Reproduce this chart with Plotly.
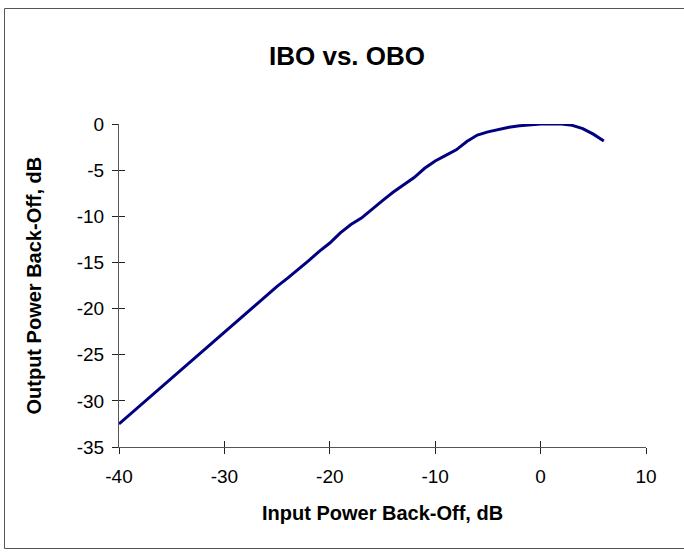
import plotly.graph_objects as go

# Data
ibo_db = [-40, -39, -38, -37, -36, -35, -34, -33, -32, -31,
          -30, -29, -28, -27, -26, -25, -24, -23, -22, -21,
          -20, -19, -18, -17, -16, -15, -14, -13, -12, -11,
          -10, -9, -8, -7, -6, -5, -4, -3, -2, -1,
          0, 1, 2, 3, 4, 5, 6]
obo_db = [-32.5, -31.5, -30.5, -29.5, -28.5, -27.5, -26.5, -25.5, -24.5, -23.5,
          -22.6, -21.5, -20.5, -19.5, -18.5, -17.6, -16.7, -15.8, -14.8, -13.8,
          -12.9, -11.8, -10.9, -10.2, -9.2, -8.3, -7.4, -6.6, -5.8, -4.8,
          -4.0, -3.4, -2.8, -1.9, -1.2, -0.85, -0.6, -0.35, -0.2, -0.1,
          0.0, 0.0, 0.0, -0.15, -0.5, -1.1, -1.85]

x_ticks = [-40, -30, -20, -10, 0, 10]
x_tick_labels = ["-40", "-30", "-20", "-10", "0", "10"]
y_ticks = [0, -5, -10, -15, -20, -25, -30, -35]
y_tick_labels = ["0", "-5", "-10", "-15", "-20", "-25", "-30", "-35"]
chart_title = "IBO vs. OBO"
x_title = "Input Power Back-Off, dB"
y_title = "Output Power Back-Off, dB"

FONT = "Liberation Sans, Arial, Helvetica, sans-serif"
W, H = 684, 557
L, R, T, B = 119, 38, 124, 110
plot_w = W - L - R
plot_h = H - T - B

fig = go.Figure()
fig.add_trace(go.Scatter(x=ibo_db, y=obo_db, mode="lines",
                         line=dict(color="#000080", width=3),
                         showlegend=False, hoverinfo="x+y"))
# helper trace so the overlaid axes (inner half of the cross ticks) are drawn
fig.add_trace(go.Scatter(x=ibo_db, y=obo_db, mode="lines", xaxis="x2", yaxis="y2",
                         line=dict(width=0), opacity=0, showlegend=False,
                         hoverinfo="skip"))

axis_common = dict(showgrid=False, zeroline=False, ticklen=6, tickwidth=1,
                   tickcolor="#222222")

fig.update_layout(
    width=W, height=H,
    margin=dict(l=L, r=R, t=T, b=B, pad=0),
    paper_bgcolor="white", plot_bgcolor="white",
    font=dict(family=FONT, color="black"),
    title=dict(text="<b>" + chart_title + "</b>", xref="container", yref="container",
               x=347 / W, y=1 - 56 / H, xanchor="center", yanchor="middle",
               font=dict(size=26, family=FONT, color="black")),
    xaxis=dict(range=[-40, 10], tickvals=x_ticks, ticktext=x_tick_labels,
               ticks="outside", showline=True, linecolor="#555555", linewidth=1,
               tickfont=dict(size=19), ticklabelstandoff=6, **axis_common),
    yaxis=dict(range=[-35, 0], tickvals=y_ticks, ticktext=y_tick_labels,
               ticks="outside", showline=True, linecolor="#555555", linewidth=1,
               tickfont=dict(size=19), ticklabelstandoff=4, **axis_common),
    xaxis2=dict(range=[-40, 10], tickvals=x_ticks, ticks="inside",
                overlaying="x", anchor="y", side="bottom",
                showticklabels=False, showline=False, **axis_common),
    yaxis2=dict(range=[-35, 0], tickvals=y_ticks, ticks="inside",
                overlaying="y", anchor="x", side="left",
                showticklabels=False, showline=False, **axis_common),
    annotations=[
        dict(text="<b>" + x_title + "</b>", xref="paper", yref="paper",
             x=0.5, y=0, xanchor="center", yanchor="middle", yshift=-66,
             showarrow=False, font=dict(size=20, family=FONT, color="black")),
        dict(text="<b>" + y_title + "</b>", xref="paper", yref="paper",
             x=0, y=0.5, xanchor="center", yanchor="middle", xshift=-86,
             textangle=-90, showarrow=False,
             font=dict(size=20, family=FONT, color="black")),
    ],
    shapes=[
        dict(type="rect", xref="paper", yref="paper",
             x0=(4.5 - L) / plot_w, x1=(700 - L) / plot_w,
             y0=(H - B - 548.5) / plot_h, y1=(H - B - 8.5) / plot_h,
             line=dict(color="#555555", width=1), fillcolor="rgba(0,0,0,0)",
             layer="below"),
    ],
)

fig.write_html("out.html", config={"displayModeBar": False},
               post_script="document.body.style.margin='0';document.body.style.overflow='hidden';")
